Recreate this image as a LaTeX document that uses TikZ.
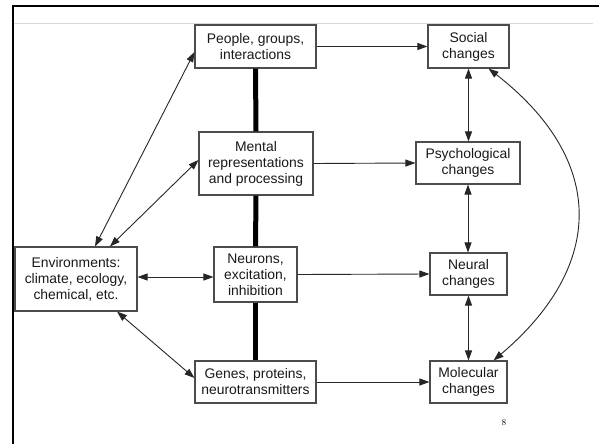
\documentclass[tikz,border=0pt]{standalone}
\usepackage{fontspec}
\setmainfont{Liberation Sans}
\usetikzlibrary{arrows.meta}
\tikzset{
  boxnode/.style={draw=black!70, line width=1.1pt, fill=white, inner sep=0pt, align=center,
    font=\fontsize{13.9}{16}\selectfont, text=black!90},
  arr/.style={draw=black!85, line width=0.9pt, -{Triangle[length=10pt,width=7pt]}},
  darr/.style={draw=black!85, line width=0.9pt, {Triangle[length=10pt,width=7pt]}-{Triangle[length=10pt,width=7pt]}},
  thickbar/.style={draw=black, line width=5pt},
  framebar/.style={draw=black, line width=2.6pt},
}
\begin{document}
\begin{tikzpicture}[x=1pt,y=-1pt]
\useasboundingbox (0,0) rectangle (599,444);
\fill[white] (0,0) rectangle (599,444);
% frame
\draw[draw=black!15, line width=1pt] (14,24) -- (593,24);
\draw[framebar] (12,6) -- (599,6);
\draw[framebar] (13,4.7) -- (13,444);
% nodes
\node[boxnode, minimum width=121pt, minimum height=43pt] (people) at (255.5,46.5) {People, groups,\\interactions};
\node[boxnode, minimum width=81pt, minimum height=43pt] (social) at (468.5,46.5) {Social\\changes};
\node[boxnode, minimum width=114pt, minimum height=63pt] (mental) at (256,163.5) {Mental\\representations\\and processing};
\node[boxnode, minimum width=104pt, minimum height=42pt] (psych) at (468,163) {Psychological\\changes};
\node[boxnode, minimum width=122pt, minimum height=64pt] (env) at (76,279) {Environments:\\climate, ecology,\\chemical, etc.};
\node[boxnode, minimum width=83pt, minimum height=55pt] (neurons) at (255.5,274.5) {Neurons,\\excitation,\\inhibition};
\node[boxnode, minimum width=77pt, minimum height=42pt] (neural) at (468.5,274) {Neural\\changes};
\node[boxnode, minimum width=121pt, minimum height=42pt] (genes) at (255.5,382) {Genes, proteins,\\neurotransmitters};
\node[boxnode, minimum width=77pt, minimum height=42pt] (molecular) at (468.5,382) {Molecular\\changes};
\node[font=\fontfamily{lmr}\selectfont\fontsize{9}{10}\selectfont, inner sep=0pt] (pagenum) at (504,423) {8};
% thick bars
\draw[thickbar] (people.south) -- (mental.north);
\draw[thickbar] (mental.south) -- (neurons.north);
\draw[thickbar] (neurons.south) -- (genes.north);
% horizontal arrows
\draw[arr] (people.east) -- (social.west);
\draw[arr] (mental.east) -- (psych.west);
\draw[arr] (neurons.east) -- (neural.west);
\draw[arr] (genes.east) -- (molecular.west);
% vertical double arrows
\draw[darr] (social.south) -- (social.south |- psych.north);
\draw[darr] (psych.south) -- (psych.south |- neural.north);
\draw[darr] (neural.south) -- (molecular.north);
% environment arrows
\draw[darr] ([xshift=19pt]env.north) -- ([yshift=-5.5pt]people.west);
\draw[darr] ([xshift=34pt]env.north) -- ([yshift=3.5pt]mental.west);
\draw[darr] ([yshift=2pt]env.east) -- ([yshift=-2.5pt]neurons.west);
\draw[darr] ([xshift=41pt]env.south) -- ([yshift=4pt]genes.west);
% curve
\coordinate (cs) at ([xshift=-21pt]social.south east);
\coordinate (cm) at ([xshift=-14pt]molecular.north east);
\draw[darr] (cs) .. controls (606,160) and (606,265) .. (cm);
\end{tikzpicture}
\end{document}
